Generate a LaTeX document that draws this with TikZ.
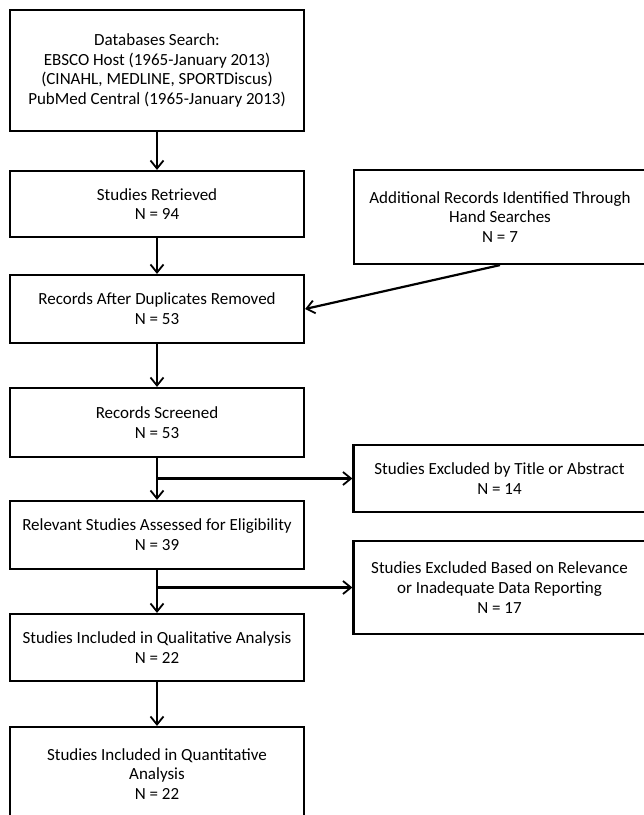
\documentclass[tikz,border=0pt]{standalone}
\usepackage{fontspec}
\setmainfont{Carlito}
\usetikzlibrary{arrows.meta}
\begin{document}
\begin{tikzpicture}[x=1pt,y=-1pt,
  box/.style={draw=black,line width=2.2pt,align=center,inner sep=0pt,
    font=\fontsize{17}{19.8}\selectfont,minimum width=294pt},
  arr/.style={line width=2.2pt,-{Straight Barb[length=8pt,width=13pt,line width=1.8pt]}}]
\useasboundingbox (0,0) rectangle (644,815);
\node[box,minimum height=121pt] (A) at (157,70.5) {Databases Search:\\EBSCO Host (1965-January 2013)\\(CINAHL, MEDLINE, SPORTDiscus)\\PubMed Central (1965-January 2013)};
\node[box,minimum height=66pt] (B) at (157,204) {Studies Retrieved\\N = 94};
\node[box,minimum height=94pt,minimum width=292pt] (R) at (500,217) {Additional Records Identified Through\\Hand Searches\\N = 7};
\node[box,minimum height=68pt] (C) at (157,309) {Records After Duplicates Removed\\N = 53};
\node[box,minimum height=69pt] (D) at (157,422.5) {Records Screened\\N = 53};
\node[box,minimum height=67pt,minimum width=292pt] (E1) at (499.5,478.5) {Studies Excluded by Title or Abstract\\N = 14};
\node[box,minimum height=68pt] (E) at (157,535) {Relevant Studies Assessed for Eligibility\\N = 39};
\node[box,minimum height=93pt,minimum width=292pt] (E2) at (499.5,587.5) {Studies Excluded Based on Relevance\\or Inadequate Data Reporting\\N = 17};
\node[box,minimum height=67pt] (F) at (157,647.5) {Studies Included in Qualitative Analysis\\N = 22};
\node[box,minimum height=94pt] (G) at (157,774) {Studies Included in Quantitative\\Analysis\\N = 22};
\draw[arr] (A) -- (B);
\draw[arr] (B) -- (C);
\draw[arr] (R.south) -- (C.east);
\draw[arr] (C) -- (D);
\draw[arr] (D) -- (E);
\draw[arr] (D.south |- E1.west) -- (E1.west);
\draw[arr] (E) -- (F);
\draw[arr] (E.south |- E2.west) -- (E2.west);
\draw[arr] (F) -- (G);
\end{tikzpicture}
\end{document}
